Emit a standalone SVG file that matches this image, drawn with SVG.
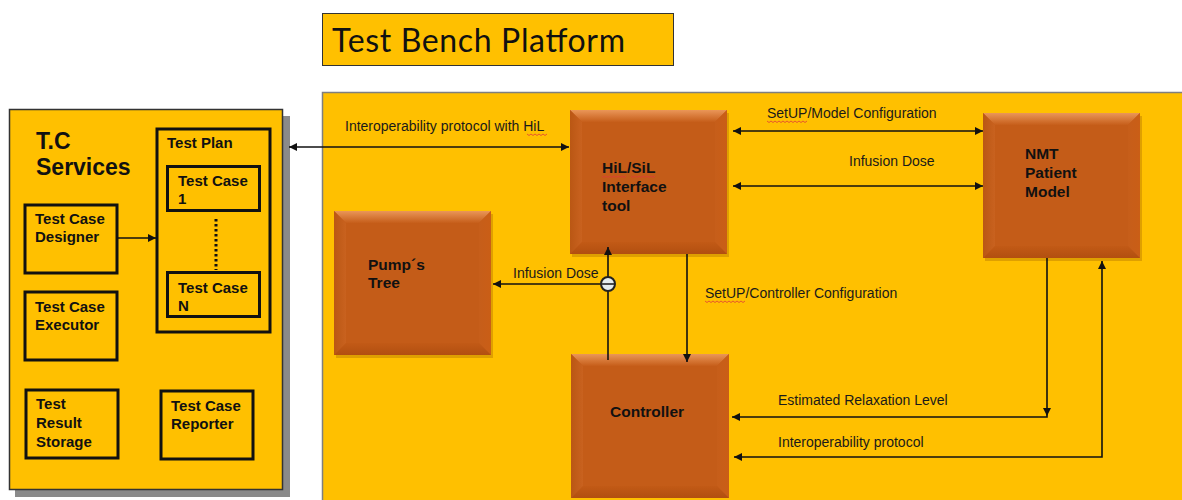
<svg xmlns="http://www.w3.org/2000/svg" width="1182" height="500" viewBox="0 0 1182 500">
<style>
.lbl{font-family:"Liberation Sans",Arial,sans-serif;font-size:14px;fill:#1a1a1a}
.bt{font-family:"Liberation Sans",Arial,sans-serif;font-size:15px;font-weight:bold;fill:#111}
.ot{font-family:"Liberation Sans",Arial,sans-serif;font-size:15.5px;font-weight:bold;fill:#111}
.ib{fill:none;stroke:#111;stroke-width:3}
.ln{fill:none;stroke:#111;stroke-width:1.6}
.sq{fill:none;stroke:#e03a3a;stroke-width:0.8}
.bc{fill:#C45C18}
.btp{fill:url(#gt)}
.blf{fill:url(#gl)}
.brt{fill:url(#gr)}
.bbt{fill:url(#gb)}
.sh{fill:#C98A00;opacity:0.6}
</style>
<defs>
<marker id="ah" viewBox="0 0 10 10" refX="10" refY="5" markerWidth="8" markerHeight="8" markerUnits="userSpaceOnUse" orient="auto-start-reverse">
<path d="M0,0 L10,5 L0,10 z" fill="#111"/>
</marker>
<linearGradient id="gt" x1="0" y1="0" x2="0" y2="1"><stop offset="0" stop-color="#EA9658"/><stop offset="1" stop-color="#C65E1A"/></linearGradient>
<linearGradient id="gl" x1="0" y1="0" x2="1" y2="0"><stop offset="0" stop-color="#BA5714"/><stop offset="1" stop-color="#C9621F"/></linearGradient>
<linearGradient id="gr" x1="0" y1="0" x2="1" y2="0"><stop offset="0" stop-color="#C65E1A"/><stop offset="1" stop-color="#CA5E16"/></linearGradient>
<linearGradient id="gb" x1="0" y1="0" x2="0" y2="1"><stop offset="0" stop-color="#C25A16"/><stop offset="1" stop-color="#B24F10"/></linearGradient>
</defs>
<rect width="1182" height="500" fill="#ffffff"/>

<g id="title">
<rect x="322.5" y="13.5" width="351" height="52" fill="#FFC000" stroke="#333" stroke-width="1"/>
<text x="332" y="52" font-family="Lato,'Open Sans',sans-serif" font-size="32" fill="#111" textLength="293">Test Bench Platform</text>
</g>

<g id="tc-services">
<rect x="15" y="116" width="275" height="381" fill="#8a8a8a"/>
<rect x="9.5" y="109.5" width="273" height="380" fill="#FFC000" stroke="#333" stroke-width="1.5"/>
<text class="bt" x="36" y="149" style="font-size:23px">T.C</text>
<text class="bt" x="36" y="175" style="font-size:23px">Services</text>
</g>

<g id="test-plan">
<rect class="ib" x="157" y="129" width="113" height="203"/>
<text class="bt" x="167" y="148">Test Plan</text>
</g>
<g id="test-case-1">
<rect class="ib" x="167.5" y="166.5" width="92" height="44"/>
<text class="bt" x="178" y="186">Test Case</text>
<text class="bt" x="178" y="204">1</text>
</g>
<g id="test-case-n">
<rect class="ib" x="167.5" y="272.5" width="92" height="44"/>
<text class="bt" x="178" y="293">Test Case</text>
<text class="bt" x="178" y="311">N</text>
</g>
<g id="designer">
<rect class="ib" x="25" y="205" width="92" height="68"/>
<text class="bt" x="35" y="224">Test Case</text>
<text class="bt" x="35" y="242">Designer</text>
</g>
<g id="executor">
<rect class="ib" x="25" y="292" width="92" height="68"/>
<text class="bt" x="35" y="312">Test Case</text>
<text class="bt" x="35" y="330">Executor</text>
</g>
<g id="storage">
<rect class="ib" x="26" y="390" width="92" height="68"/>
<text class="bt" x="36" y="409">Test</text>
<text class="bt" x="36" y="428">Result</text>
<text class="bt" x="36" y="447">Storage</text>
</g>
<g id="reporter">
<rect class="ib" x="161" y="391" width="92" height="68"/>
<text class="bt" x="171" y="411">Test Case</text>
<text class="bt" x="171" y="429">Reporter</text>
</g>

<g id="platform">
<rect x="322.5" y="92.5" width="870" height="420" fill="#FFC000" stroke="#7f7f7f" stroke-width="1.5"/>
</g>

<g id="hil">
<rect class="sh" x="572" y="113" width="157" height="144"/>
<rect class="bc" x="570" y="110" width="157" height="144"/>
<polygon class="btp" points="570,110 727,110 715,122 582,122"/>
<polygon class="blf" points="570,110 582,122 582,242 570,254"/>
<polygon class="brt" points="727,110 727,254 715,242 715,122"/>
<polygon class="bbt" points="570,254 582,242 715,242 727,254"/>
<text class="ot" x="602" y="173">HiL/SiL</text>
<text class="ot" x="602" y="192">Interface</text>
<text class="ot" x="602" y="211">tool</text>
<path class="sq" d="M602,176 l2,1.5 l2,-1.5 l2,1.5 l2,-1.5 l2,1.5 l2,-1.5 l2,1.5 l2,-1.5 l2,1.5 l2,-1.5 l2,1.5 l2,-1.5 M631,176 l2,1.5 l2,-1.5 l2,1.5 l2,-1.5 l2,1.5 l2,-1.5 l2,1.5 l2,-1.5 l2,1.5 l2,-1.5 l2,1.5 l2,-1.5"/>
</g>

<g id="pump">
<rect class="sh" x="336" y="214" width="157" height="144"/>
<rect class="bc" x="334" y="211" width="157" height="144"/>
<polygon class="btp" points="334,211 491,211 479,223 346,223"/>
<polygon class="blf" points="334,211 346,223 346,343 334,355"/>
<polygon class="brt" points="491,211 491,355 479,343 479,223"/>
<polygon class="bbt" points="334,355 346,343 479,343 491,355"/>
<text class="ot" x="368" y="270">Pump´s</text>
<text class="ot" x="368" y="288">Tree</text>
</g>

<g id="nmt">
<rect class="sh" x="985" y="116" width="157" height="145"/>
<rect class="bc" x="983" y="113" width="157" height="145"/>
<polygon class="btp" points="983,113 1140,113 1128,125 995,125"/>
<polygon class="blf" points="983,113 995,125 995,246 983,258"/>
<polygon class="brt" points="1140,113 1140,258 1128,246 1128,125"/>
<polygon class="bbt" points="983,258 995,246 1128,246 1140,258"/>
<text class="ot" x="1025" y="159">NMT</text>
<text class="ot" x="1025" y="178">Patient</text>
<text class="ot" x="1025" y="197">Model</text>
</g>

<g id="controller">
<rect class="bc" x="571" y="354" width="158" height="144"/>
<polygon class="btp" points="571,354 729,354 717,366 583,366"/>
<polygon class="blf" points="571,354 583,366 583,486 571,498"/>
<polygon class="brt" points="729,354 729,498 717,486 717,366"/>
<polygon class="bbt" points="571,498 583,486 717,486 729,498"/>
<text class="ot" x="610" y="417">Controller</text>
</g>

<g id="connectors">
<line x1="216" y1="219" x2="216" y2="270" stroke="#111" stroke-dasharray="2.5,2.5" stroke-width="3"/>
<line class="ln" x1="117" y1="238" x2="156" y2="238" marker-end="url(#ah)"/>
<line class="ln" x1="289" y1="147" x2="569" y2="147" marker-start="url(#ah)" marker-end="url(#ah)"/>
<line class="ln" x1="733" y1="131" x2="983" y2="131" marker-start="url(#ah)" marker-end="url(#ah)"/>
<line class="ln" x1="733" y1="186" x2="983" y2="186" marker-start="url(#ah)" marker-end="url(#ah)"/>
<line class="ln" x1="687" y1="254" x2="687" y2="362" marker-end="url(#ah)"/>
<line class="ln" x1="608" y1="360" x2="608" y2="247" marker-end="url(#ah)"/>
<line class="ln" x1="601" y1="284" x2="493" y2="284" marker-end="url(#ah)"/>
<circle cx="608" cy="284" r="7" fill="#e4ecee" stroke="#222" stroke-width="2"/>
<line x1="601" y1="284" x2="615" y2="284" stroke="#222" stroke-width="1.6"/>
<polyline class="ln" points="1047,258 1047,417 732,417" marker-end="url(#ah)"/>
<path d="M1043,408 L1047,416 L1051,408 z" fill="#111"/>
<polyline class="ln" points="734,457 1102,457 1102,261" marker-start="url(#ah)" marker-end="url(#ah)"/>
<text class="lbl" x="345" y="131">Interoperability protocol with HiL</text>
<path class="sq" d="M527,134 l2,1.5 l2,-1.5 l2,1.5 l2,-1.5 l2,1.5 l2,-1.5 l2,1.5 l2,-1.5 l2,1.5 l2,-1.5"/>
<text class="lbl" x="767" y="118">SetUP/Model Configuration</text>
<path class="sq" d="M767,121 l2,1.5 l2,-1.5 l2,1.5 l2,-1.5 l2,1.5 l2,-1.5 l2,1.5 l2,-1.5 l2,1.5 l2,-1.5 l2,1.5 l2,-1.5 l2,1.5 l2,-1.5 l2,1.5 l2,-1.5 l2,1.5 l2,-1.5 l2,1.5 l2,-1.5"/>
<text class="lbl" x="849" y="166">Infusion Dose</text>
<text class="lbl" x="705" y="298">SetUP/Controller Configuration</text>
<path class="sq" d="M705,301 l2,1.5 l2,-1.5 l2,1.5 l2,-1.5 l2,1.5 l2,-1.5 l2,1.5 l2,-1.5 l2,1.5 l2,-1.5 l2,1.5 l2,-1.5 l2,1.5 l2,-1.5 l2,1.5 l2,-1.5 l2,1.5 l2,-1.5 l2,1.5 l2,-1.5"/>
<text class="lbl" x="513" y="278">Infusion Dose</text>
<text class="lbl" x="778" y="405">Estimated Relaxation Level</text>
<text class="lbl" x="778" y="447">Interoperability protocol</text>
</g>
</svg>
